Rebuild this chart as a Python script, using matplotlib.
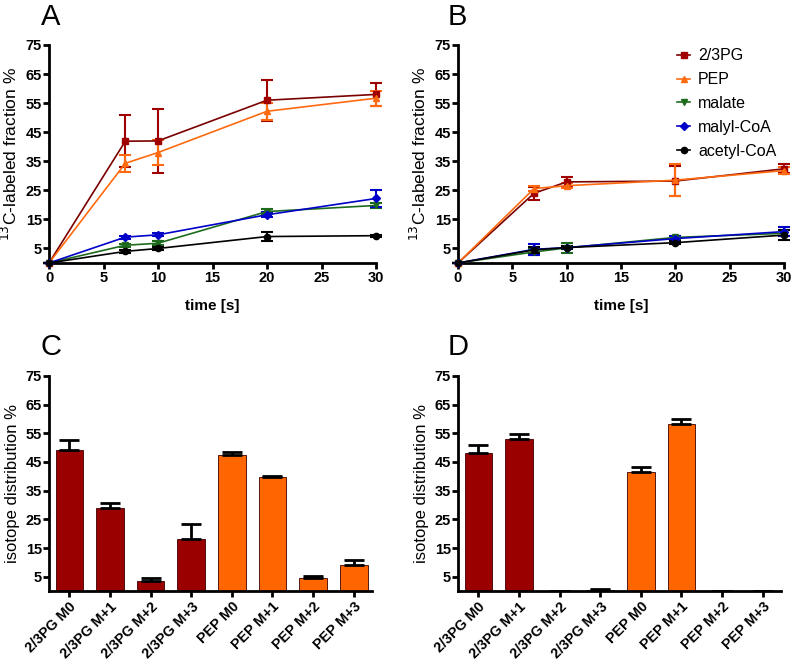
import matplotlib.pyplot as plt
import numpy as np

plt.rcParams['font.family'] = ['Liberation Sans', 'DejaVu Sans']

# time course data (panels A and B)
time = [0, 7, 10, 20, 30]
series = ['2/3PG', 'PEP', 'malate', 'malyl-CoA', 'acetyl-CoA']
colors = ['#a00000', '#ff6a10', '#1e6b1e', '#0000c8', '#000000']
line_colors = ['#7a0000', '#ff6a10', '#1e6b1e', '#0000c8', '#000000']
markers = ['s', '^', 'v', 'D', 'o']
msizes = [4.5, 5, 5, 4, 4.5]

a_vals = [[0, 41.9, 42.0, 56.0, 58.0],
          [0, 34.3, 38.0, 52.2, 56.7],
          [0, 6.1, 6.8, 17.7, 19.8],
          [0, 8.9, 9.7, 16.6, 22.2],
          [0, 4.0, 5.0, 9.1, 9.4]]
a_err = [[0, 9.0, 11.0, 7.0, 4.0],
         [0, 3.0, 4.4, 3.0, 2.6],
         [0, 0.6, 0.6, 0.8, 0.9],
         [0, 0.5, 0.5, 0.8, 2.9],
         [0, 0.4, 0.4, 1.6, 0.3]]

b_vals = [[0, 24.0, 27.9, 28.2, 32.4],
          [0, 25.6, 26.6, 28.5, 31.8],
          [0, 3.8, 5.2, 8.8, 10.2],
          [0, 4.7, 5.3, 8.4, 10.8],
          [0, 4.5, 5.3, 7.0, 9.6]]
b_err = [[0, 2.3, 1.6, 5.3, 1.5],
         [0, 1.0, 0.8, 5.5, 1.2],
         [0, 1.0, 1.7, 0.6, 1.0],
         [0, 1.8, 0.6, 0.8, 1.5],
         [0, 1.0, 0.6, 0.5, 1.8]]

# isotope distribution data (panels C and D)
iso_labels = ['2/3PG M0', '2/3PG M+1', '2/3PG M+2', '2/3PG M+3',
              'PEP M0', 'PEP M+1', 'PEP M+2', 'PEP M+3']
bar_colors = ['#9a0000'] * 4 + ['#ff6600'] * 4
c_vals = [49.2, 29.0, 3.6, 18.3, 47.4, 39.7, 4.6, 9.0]
c_err = [3.5, 1.8, 0.9, 4.9, 1.2, 0.5, 0.5, 1.8]
d_vals = [48.0, 53.1, 0.0, 0.3, 41.4, 58.2, 0.0, 0.0]
d_err = [2.8, 1.8, 0.0, 0.3, 1.9, 1.7, 0.0, 0.0]

fig = plt.figure(figsize=(7.92, 6.62), dpi=100)

W, H = 792, 662


def ax_px(left, top, right, bottom):
    return fig.add_axes([left / W, 1 - bottom / H, (right - left) / W, (bottom - top) / H])


def style(ax, xsize=10.5):
    for s in ['top', 'right']:
        ax.spines[s].set_visible(False)
    for s in ['left', 'bottom']:
        ax.spines[s].set_linewidth(2)
    ax.tick_params(width=2, length=4, pad=2)
    ax.tick_params(axis='y', labelsize=10.5, pad=1)
    ax.tick_params(axis='x', labelsize=xsize)
    ax.set_ylim(0, 75)
    ax.set_yticks([5, 15, 25, 35, 45, 55, 65, 75])
    for lab in ax.get_xticklabels() + ax.get_yticklabels():
        lab.set_fontweight('bold')


def time_panel(ax, vals, errs, legend=False):
    for i in range(len(series)):
        ax.errorbar(time, vals[i], yerr=errs[i], color=line_colors[i], ecolor=colors[i],
                    marker=markers[i], markersize=msizes[i], markerfacecolor=colors[i],
                    markeredgecolor=colors[i], linewidth=1.2, elinewidth=1.5,
                    capsize=4, capthick=1.5, label=series[i], clip_on=False, zorder=3)
    ax.set_xlim(0, 30)
    ax.set_xticks([0, 5, 10, 15, 20, 25, 30])
    style(ax)
    ax.set_xlabel('time [s]', fontsize=11, fontweight='bold', labelpad=10)
    ax.set_ylabel('$^{13}$C-labeled fraction %', fontsize=12.5, labelpad=4)
    if legend:
        handles, labels = ax.get_legend_handles_labels()
        handles = [h[0] for h in handles]
        ax.legend(handles, labels, loc='upper right', bbox_to_anchor=(1.02, 1.05),
                  frameon=False, fontsize=11.5, handlelength=0.8, handletextpad=0.5,
                  labelspacing=0.55)


def bar_panel(ax, vals, errs):
    x = np.arange(len(iso_labels))
    ax.bar(x, vals, width=0.68, color=bar_colors, edgecolor='#3a0000', linewidth=0.6, zorder=2)
    ax.errorbar(x, vals, yerr=[np.zeros(len(errs)), errs], fmt='none', ecolor='black',
                elinewidth=2, capsize=7.5, capthick=2, zorder=3)
    ax.set_xlim(-0.5, 7.45)
    ax.set_xticks(x)
    ax.set_xticklabels(iso_labels, rotation=45, ha='right', rotation_mode='anchor')
    style(ax, xsize=10.3)
    ax.set_ylabel('isotope distribution %', fontsize=12, labelpad=4)


axA = ax_px(49, 45, 376, 263)
axB = ax_px(458, 45, 784, 263)
axC = ax_px(49, 376, 372, 591)
axD = ax_px(458, 376, 781, 591)

time_panel(axA, a_vals, a_err)
time_panel(axB, b_vals, b_err, legend=True)
bar_panel(axC, c_vals, c_err)
bar_panel(axD, d_vals, d_err)

for lbl, x, y in [('A', 41, 3), ('B', 448, 3), ('C', 40, 333), ('D', 448, 333)]:
    fig.text(x / W, 1 - y / H, lbl, fontsize=21, va='top', ha='left')

fig.savefig('out.png', dpi=100)
